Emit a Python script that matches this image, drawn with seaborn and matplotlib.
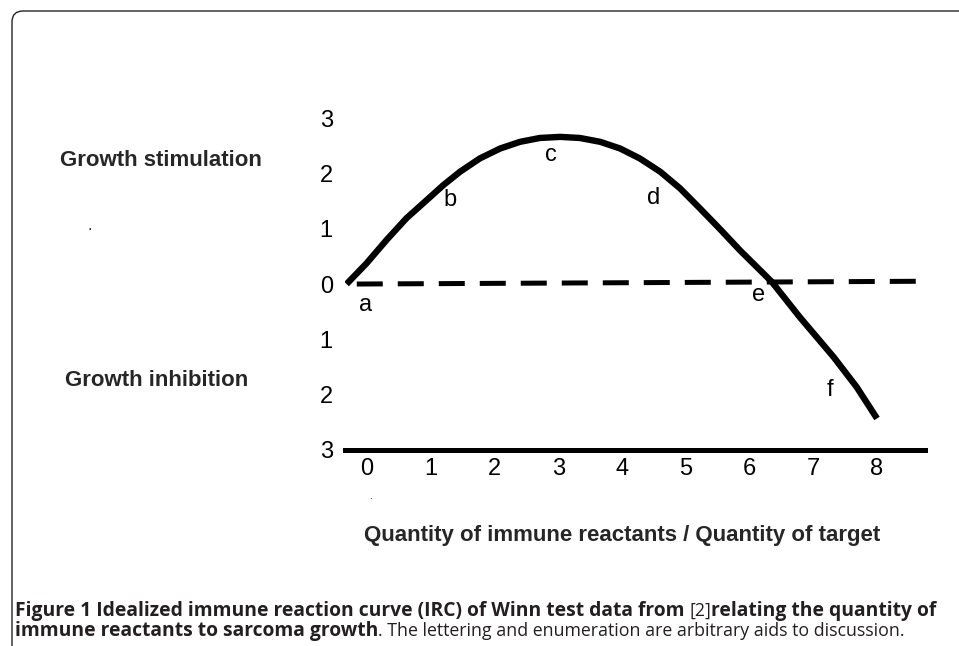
import matplotlib
matplotlib.use("Agg")
import matplotlib.pyplot as plt
from matplotlib.patches import FancyBboxPatch
from matplotlib.transforms import IdentityTransform
import numpy as np
import pandas as pd
import seaborn as sns

# --- data ---
curve_x = [-0.32, -0.01, 0.31, 0.62, 0.94, 1.20, 1.46, 1.77, 2.09, 2.40, 2.71, 3.03, 3.34,
           3.66, 3.97, 4.28, 4.60, 4.91, 5.22, 5.54, 5.85, 6.35, 6.79, 7.32, 7.68, 8.0]
curve_y = [0.0, 0.37, 0.80, 1.19, 1.52, 1.79, 2.03, 2.27, 2.45, 2.57, 2.64, 2.66, 2.64,
           2.57, 2.45, 2.27, 2.03, 1.73, 1.37, 0.99, 0.61, 0.04, -0.60, -1.32, -1.86, -2.43]
baseline_x = [-0.16, 8.70]
baseline_y = [0.0, 0.05]

x_ticks = [0, 1, 2, 3, 4, 5, 6, 7, 8]
y_ticks = [3, 2, 1, 0, -1, -2, -3]
y_ticklabels = ["3", "2", "1", "0", "1", "2", "3"]

point_labels = ["a", "b", "c", "d", "e", "f"]
point_x = [-0.03, 1.30, 2.89, 4.49, 6.15, 7.26]
point_y = [-0.38, 1.52, 2.33, 1.55, -0.20, -1.92]

caption_line1 = [("Figure 1 Idealized immune reaction curve (IRC) of Winn test data from ", "bold"),
                 ("[2]", "normal"),
                 ("relating the quantity of", "bold")]
caption_line2 = [("immune reactants to sarcoma growth", "bold"),
                 (". The lettering and enumeration are arbitrary aids to discussion.", "normal")]

sns.set_theme(style="white")
plt.rcParams["font.family"] = ["Liberation Sans", "DejaVu Sans"]

W, H = 959, 646
fig = plt.figure(figsize=(W / 100, H / 100), dpi=100)
fig.patch.set_facecolor("white")

# axes placed so data units line up with the scanned figure
x0, x1 = -0.34, 8.75
y0, y1 = -3.0, 3.2
ax = fig.add_axes([345.3 / W, (H - 450) / H, (924.8 - 345.3) / W, (450 - 107) / H])
ax.set_xlim(x0, x1)
ax.set_ylim(y0, y1)
ax.set_facecolor("none")

df_curve = pd.DataFrame({"x": curve_x, "y": curve_y})
sns.lineplot(data=df_curve, x="x", y="y", sort=False, color="black", lw=4.6,
             solid_capstyle="butt", solid_joinstyle="round", ax=ax)

df_base = pd.DataFrame({"x": baseline_x, "y": baseline_y})
sns.lineplot(data=df_base, x="x", y="y", sort=False, color="black", lw=3.6,
             dashes=False, ax=ax)
ax.lines[-1].set_linestyle((0, (5.2, 3.0)))
ax.lines[-1].set_dash_capstyle("butt")

for lab, px, py in zip(point_labels, point_x, point_y):
    ax.text(px, py, lab, fontsize=17, ha="center", va="center", color="black")

# spines / ticks
for s in ["top", "right", "left"]:
    ax.spines[s].set_visible(False)
ax.spines["bottom"].set_linewidth(3.6)
ax.spines["bottom"].set_color("black")
ax.set_xticks(x_ticks)
ax.set_xticklabels([str(v) for v in x_ticks])
ax.set_yticks(y_ticks)
ax.set_yticklabels(y_ticklabels)
ax.tick_params(axis="both", length=0, labelsize=17, colors="black")
ax.tick_params(axis="x", pad=6)
ax.tick_params(axis="y", pad=9)
ax.set_xlabel("")
ax.set_ylabel("")
ax.grid(False)

# side labels and axis title
fig.text(60 / W, (H - 160) / H, "Growth stimulation", fontsize=16, fontweight="bold",
         ha="left", va="center")
fig.text(65 / W, (H - 380) / H, "Growth inhibition", fontsize=16, fontweight="bold",
         ha="left", va="center")
fig.text(90 / W, (H - 225) / H, ".", fontsize=12, ha="center", va="center")
fig.text(370 / W, (H - 496) / H, ".", fontsize=7, ha="center", va="center")
fig.text(622 / W, (H - 536) / H, "Quantity of immune reactants / Quantity of target",
         fontsize=16, fontweight="bold", ha="center", va="center")

# rounded frame around the figure panel
frame = FancyBboxPatch((12, -40), 1100, H - 11 + 40, boxstyle="round,pad=0,rounding_size=11",
                       transform=IdentityTransform(), fill=False, edgecolor="#222222", lw=1.0)
fig.patches.append(frame)

# caption, drawn as runs of bold / normal text
fig.canvas.draw()
renderer = fig.canvas.get_renderer()
cap_size = {"bold": 13.9, "normal": 12.8}


def put_runs(runs, x_px, y_px):
    x = x_px
    for txt, weight in runs:
        t = fig.text(x / W, (H - y_px) / H, txt, fontsize=cap_size[weight], fontweight=weight,
                     family=["Open Sans", "DejaVu Sans"], color="#231f20",
                     ha="left", va="baseline")
        bb = t.get_window_extent(renderer=renderer)
        x = bb.x1


put_runs(caption_line1, 15, 616)
put_runs(caption_line2, 15, 636)

fig.savefig("out.png", dpi=100, facecolor="white")
